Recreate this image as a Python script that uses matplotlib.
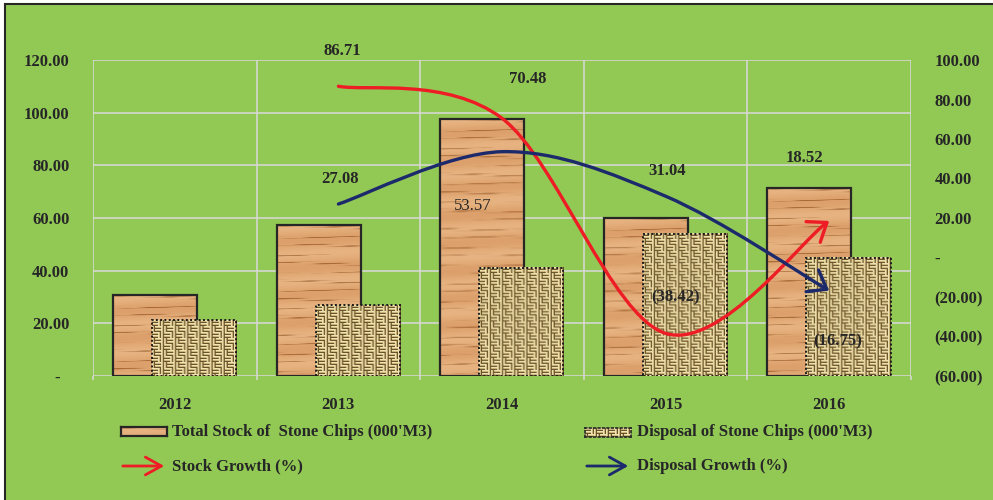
import numpy as np
import matplotlib
matplotlib.use("Agg")
import matplotlib.pyplot as plt
from matplotlib.path import Path
from matplotlib.patches import FancyArrowPatch, Rectangle

# stone chips data (000'M3) and year-on-year growth (%)
years = ["2012", "2013", "2014", "2015", "2016"]
total_stock = [30.70, 57.32, 97.72, 60.17, 71.31]
disposal = [21.10, 26.81, 41.18, 53.96, 44.92]
stock_growth = [86.71, 70.48, -38.42, 18.52]        # 2013-2016
disposal_growth = [27.08, 53.57, 31.04, -16.75]     # 2013-2016

plt.rcParams['font.family'] = ['Liberation Serif', 'DejaVu Serif']
plt.rcParams['font.weight'] = 'bold'

GREEN = '#92C955'
GRID = '#D9D9D9'
TEXT = '#262626'
RED = '#EE1C25'
NAVY = '#1C2A6C'

W_PX, H_PX = 993, 500
AX_L, AX_T, AX_W, AX_H = 93, 60, 818, 316


def wood(h, w):
    yy, xx = np.mgrid[0:h, 0:w].astype(float)
    phase = yy * 0.7 + 0.8 * np.sin(xx * 0.03 + yy * 0.37)
    streak = np.clip(np.sin(phase), 0, 1) ** 6 * np.clip(np.sin(xx * 0.09 + yy * 1.9) + 0.3, 0, 1)
    light = 0.5 + 0.5 * np.sin(yy * 0.23 + xx * 0.012 + 1.0)
    base = np.array([220, 160, 108]) / 255
    dark = np.array([168, 104, 54]) / 255
    hi = np.array([238, 192, 142]) / 255
    img = base + (hi - base) * light[..., None] * 0.6 + (dark - base) * streak[..., None]
    return np.clip(img, 0, 1)


def burlap(h, w):
    yy, xx = np.mgrid[0:h, 0:w]
    band = yy // 6
    xs = xx + (band % 2) * 3
    horiz = ((xs // 6) + band) % 2 == 0
    along = np.where(horiz, yy % 3, xs % 3)
    light = np.array([240, 228, 176]) / 255
    mid = np.array([205, 182, 126]) / 255
    dark = np.array([104, 82, 42]) / 255
    img = np.where((along == 2)[..., None], dark, np.where((along == 0)[..., None], light, mid))
    return img


def smooth_path(xs, ys):
    # cubic bezier through the points, same kind of smoothing Excel uses
    pts = np.column_stack([xs, ys]).astype(float)
    n = len(pts)
    verts, codes = [pts[0]], [Path.MOVETO]
    for i in range(n - 1):
        p0 = pts[max(i - 1, 0)]
        p3 = pts[min(i + 2, n - 1)]
        c1 = pts[i] + (pts[i + 1] - p0) / 6
        c2 = pts[i + 1] - (p3 - pts[i]) / 6
        verts += [c1, c2, pts[i + 1]]
        codes += [Path.CURVE4] * 3
    return Path(verts, codes)


def fmt(v):
    return f"({abs(v):.2f})" if v < 0 else f"{v:.2f}"


fig = plt.figure(figsize=(W_PX / 100, H_PX / 100), dpi=100, facecolor='white')
fig.add_artist(Rectangle((5 / W_PX, -0.1), 1.2, 1.1 - 4 / H_PX, transform=fig.transFigure,
                         facecolor=GREEN, edgecolor=TEXT, lw=1.5, zorder=-10))

ax = fig.add_axes([AX_L / W_PX, 1 - (AX_T + AX_H) / H_PX, AX_W / W_PX, AX_H / H_PX])
ax.set_facecolor('none')
x = np.arange(len(years))

bw = 0.514
stock_bars = ax.bar(x - 0.121, total_stock, bw, facecolor='none', edgecolor=TEXT, lw=1.6, zorder=3)
disp_bars = ax.bar(x + 0.118, disposal, bw, facecolor='none', edgecolor='#1a1a1a', lw=1.4,
                   linestyle=(0, (1, 1.2)), zorder=5)

px_x = AX_W / 5
px_y = AX_H / 120
for bars, tex, z in [(stock_bars, wood, 2), (disp_bars, burlap, 4)]:
    for r in bars:
        x0, w, h = r.get_x(), r.get_width(), r.get_height()
        img = tex(max(int(round(h * px_y)), 1), int(round(w * px_x)))
        ax.imshow(img, extent=[x0, x0 + w, 0, h], aspect='auto', interpolation='bilinear', zorder=z)

ax.set_xlim(-0.5, 4.5)
ax.set_ylim(0, 120)
ax.set_xticks(x)
ax.set_xticklabels(years)
ax.set_xticks(np.arange(-0.5, 5, 1), minor=True)
ax.set_yticks(np.arange(0, 121, 20))
ax.set_yticklabels(['-' + '\u2007'] + [f"{v:.2f}" for v in range(20, 121, 20)])
ax.grid(axis='y', which='major', color=GRID, lw=1.1)
ax.grid(axis='x', which='minor', color=GRID, lw=1.1)
ax.set_axisbelow(True)
ax.tick_params(axis='x', which='major', length=0, pad=15, labelsize=12, labelcolor=TEXT)
ax.tick_params(axis='x', which='minor', length=3, color=GRID, width=1.1)
ax.tick_params(axis='y', length=0, pad=17, labelsize=12, labelcolor=TEXT)
for s in ax.spines.values():
    s.set_visible(False)

ax2 = ax.twinx()
ax2.set_ylim(-60, 100)
ax2.set_yticks(np.arange(-60, 101, 20))
ax2.set_yticklabels([fmt(v) if v != 0 else '-' for v in range(-60, 101, 20)])
ax2.tick_params(axis='y', length=0, pad=17, labelsize=12, labelcolor=TEXT)
for s in ax2.spines.values():
    s.set_visible(False)

gx = x[1:]
for vals, color in [(stock_growth, RED), (disposal_growth, NAVY)]:
    arrow = FancyArrowPatch(path=smooth_path(gx, vals), arrowstyle='->,head_length=0.6,head_width=0.45',
                            mutation_scale=20, color=color, lw=2.4, transform=ax2.transData,
                            capstyle='round', joinstyle='round', zorder=6)
    ax2.add_patch(arrow)

# data labels, offsets in pixels from each point
stock_offsets = [(4, 35), (26, 39), (10, 36), (-25, 63)]
disp_offsets = [(2, 25), (-29, -54), (1, 25), (8, -51)]
for vals, offs in [(stock_growth, stock_offsets), (disposal_growth, disp_offsets)]:
    for xi, v, (dx, dy) in zip(gx, vals, offs):
        weight = 'normal' if v == 53.57 else 'bold'
        ax2.annotate(fmt(v), (xi, v), xytext=(dx, dy), textcoords='offset pixels',
                     ha='center', va='center', fontsize=12, color=TEXT, weight=weight, zorder=7)
ax2.set_xlim(-0.5, 4.5)

# legend
def fig_box(l, t, w, h):
    return [l / W_PX, 1 - (t + h) / H_PX, w / W_PX, h / H_PX]

for (l, t), tex, ls in [((121, 427), wood, '-'), ((585, 428), burlap, ':')]:
    sw = fig.add_axes(fig_box(l, t, 46, 9))
    sw.imshow(tex(9, 46), aspect='auto', interpolation='bilinear')
    sw.set_xticks([])
    sw.set_yticks([])
    for s in sw.spines.values():
        s.set_color(TEXT)
        s.set_linewidth(1.6 if ls == '-' else 1.2)
        s.set_linestyle(ls)

for (l, t), color in [((120, 466), RED), ((584, 466), NAVY)]:
    fig.add_artist(FancyArrowPatch((l / W_PX, 1 - t / H_PX), ((l + 47) / W_PX, 1 - t / H_PX),
                                   transform=fig.transFigure, color=color, lw=2,
                                   arrowstyle='->,head_length=0.72,head_width=0.4', mutation_scale=16))

legend_text = [(172, 432, "Total Stock of  Stone Chips (000'M3)"),
               (637, 432, "Disposal of Stone Chips (000'M3)"),
               (172, 466, "Stock Growth (%)"),
               (637, 466, "Disposal Growth (%)")]
for l, t, s in legend_text:
    fig.text(l / W_PX, 1 - t / H_PX, s, ha='left', va='center', fontsize=12, color=TEXT)

fig.savefig('out.png', dpi=100, facecolor=fig.get_facecolor())
